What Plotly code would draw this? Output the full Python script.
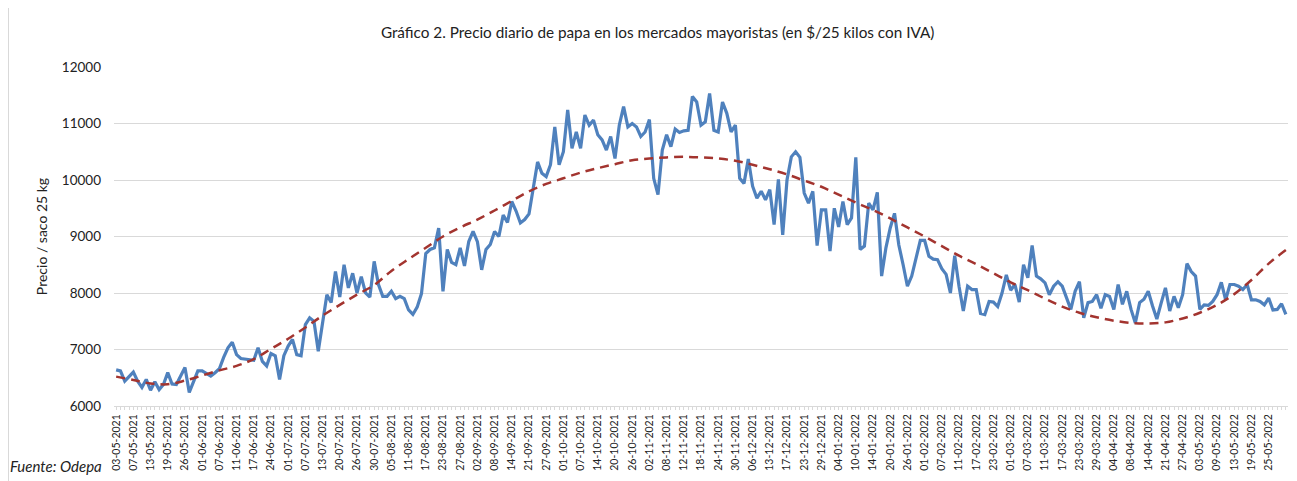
import pandas as pd
import plotly.graph_objects as go

# trading days (weekdays without Chilean holidays)
holidays = ["2021-05-21", "2021-06-21", "2021-06-28", "2021-07-16", "2021-09-17",
            "2021-10-11", "2021-11-01", "2021-12-08", "2022-04-15"]
days = pd.bdate_range("2021-05-03", "2022-05-31", freq="C", holidays=holidays)
dates = [d.strftime("%d-%m-%Y") for d in days]

price = [
    6640, 6620, 6440, 6530, 6600, 6440, 6330, 6470, 6280, 6430,
    6290, 6380, 6590, 6390, 6380, 6530, 6680, 6240, 6440, 6620,
    6620, 6570, 6530, 6590, 6660, 6860, 7030, 7130, 6910, 6840,
    6830, 6830, 6810, 7030, 6790, 6710, 6930, 6890, 6470, 6890,
    7060, 7180, 6910, 6890, 7440, 7560, 7500, 6970, 7470, 7970,
    7830, 8380, 7930, 8500, 8090, 8350, 8000, 8290, 8000, 7930,
    8560, 8150, 7940, 7940, 8030, 7900, 7940, 7900, 7700, 7620,
    7750, 7990, 8700, 8770, 8800, 9150, 8030, 8770, 8540, 8500,
    8800, 8480, 8910, 9090, 8910, 8410, 8770, 8860, 9090, 9000,
    9380, 9250, 9620, 9450, 9240, 9300, 9400, 9860, 10320, 10120,
    10060, 10270, 10940, 10270, 10500, 11240, 10560, 10850, 10560, 11150,
    10970, 11060, 10800, 10710, 10530, 10770, 10380, 10970, 11300, 10940,
    11000, 10940, 10770, 10850, 11070, 10030, 9740, 10530, 10800, 10590,
    10900, 10840, 10870, 10880, 11480, 11380, 10970, 11030, 11530, 10880,
    10850, 11380, 11180, 10850, 10970, 10030, 9940, 10370, 9890, 9680,
    9800, 9650, 9830, 9210, 10010, 9030, 10000, 10410, 10500, 10400,
    9770, 9590, 9800, 8840, 9470, 9470, 8740, 9500, 9170, 9620,
    9210, 9330, 10400, 8770, 8830, 9590, 9470, 9780, 8300, 8800,
    9150, 9410, 8850, 8500, 8120, 8300, 8590, 8930, 8930, 8650,
    8600, 8590, 8430, 8330, 8000, 8660, 8120, 7680, 8120, 8060,
    8060, 7640, 7620, 7850, 7840, 7760, 8000, 8320, 8050, 8150,
    7840, 8500, 8270, 8840, 8300, 8250, 8180, 7970, 8120, 8200,
    8120, 7910, 7710, 8030, 8200, 7560, 7830, 7850, 7970, 7730,
    7970, 7940, 7710, 8150, 7800, 8030, 7710, 7470, 7830, 7890,
    8030, 7770, 7540, 7820, 8090, 7680, 7940, 7740, 7970, 8520,
    8380, 8300, 7710, 7790, 7780, 7850, 7970, 8190, 7880, 8150,
    8150, 8120, 8060, 8150, 7880, 7880, 7850, 7790, 7910, 7700,
    7710, 7810, 7620,
]

# polynomial trend read every 4th trading day
trend = [
    6520, 6460, 6400, 6385, 6450, 6540, 6630, 6710, 6830, 7010,
    7190, 7390, 7600, 7790, 7970, 8140, 8390, 8600, 8800, 9000,
    9160, 9300, 9460, 9630, 9800, 9930, 10030, 10130, 10210, 10280,
    10350, 10380, 10400, 10410, 10400, 10380, 10340, 10270, 10190, 10100,
    9990, 9880, 9740, 9600, 9470, 9320, 9160, 9000, 8830, 8660,
    8510, 8350, 8190, 8050, 7900, 7760, 7650, 7570, 7510, 7470,
    7460, 7480, 7550, 7650, 7790, 7980, 8230, 8520, 8760,
]
trend_dates = dates[::4]

tick_vals = dates
tick_text = [d if i % 4 == 0 and i <= 268 else "" for i, d in enumerate(dates)]

font = "Lato"
fig = go.Figure()
fig.add_trace(go.Scatter(x=dates, y=price, mode="lines",
                         line=dict(color="#4F81BD", width=3.2), name="Precio"))
fig.add_trace(go.Scatter(x=trend_dates, y=trend, mode="lines", line_shape="spline",
                         line=dict(color="#A3342F", width=2.5, dash="9px,6px"), name="Tendencia"))

# page body has an 8px margin, so the figure is 8px smaller each way
fig.update_layout(
    width=1289, height=473,
    margin=dict(l=106, r=9, t=59, b=75),
    paper_bgcolor="white", plot_bgcolor="white",
    showlegend=False,
    font=dict(family=font, color="#222222", size=12),
    title=dict(text="Gráfico 2. Precio diario de papa en los mercados mayoristas (en $/25 kilos con IVA)",
               x=0.504, xref="container", xanchor="center",
               y=1 - 25 / 473, yref="container", yanchor="middle",
               font=dict(family=font, size=15.3, color="#222222")),
)
fig.update_xaxes(type="category", tickmode="array", tickvals=tick_vals, ticktext=tick_text,
                 tickangle=-90, tickfont=dict(size=10.5), ticks="outside", ticklen=3,
                 tickcolor="#d9d9d9", showgrid=False, showline=True, linecolor="#d9d9d9",
                 range=[-0.5, len(dates) - 0.5])
fig.update_yaxes(range=[6000, 12000], dtick=1000, tickformat="d", showgrid=True,
                 gridcolor="#d9d9d9", zeroline=False, tickfont=dict(size=13.5),
                 ticklabelstandoff=12,
                 title=dict(text="Precio / saco 25 kg", font=dict(size=14), standoff=10))

fig.add_annotation(text="<i>Fuente: Odepa</i>", xref="paper", yref="paper",
                   x=(8 - 114) / 1174, y=(406 - 466) / 339, xanchor="left", yanchor="middle",
                   showarrow=False, font=dict(size=15, color="#222222"))
fig.add_shape(type="line", xref="paper", yref="paper",
              x0=(8.5 - 114) / 1174, x1=(8.5 - 114) / 1174, y0=(406 - 481) / 339, y1=406 / 339,
              line=dict(color="#d9d9d9", width=1))

fig.write_html("out.html")
